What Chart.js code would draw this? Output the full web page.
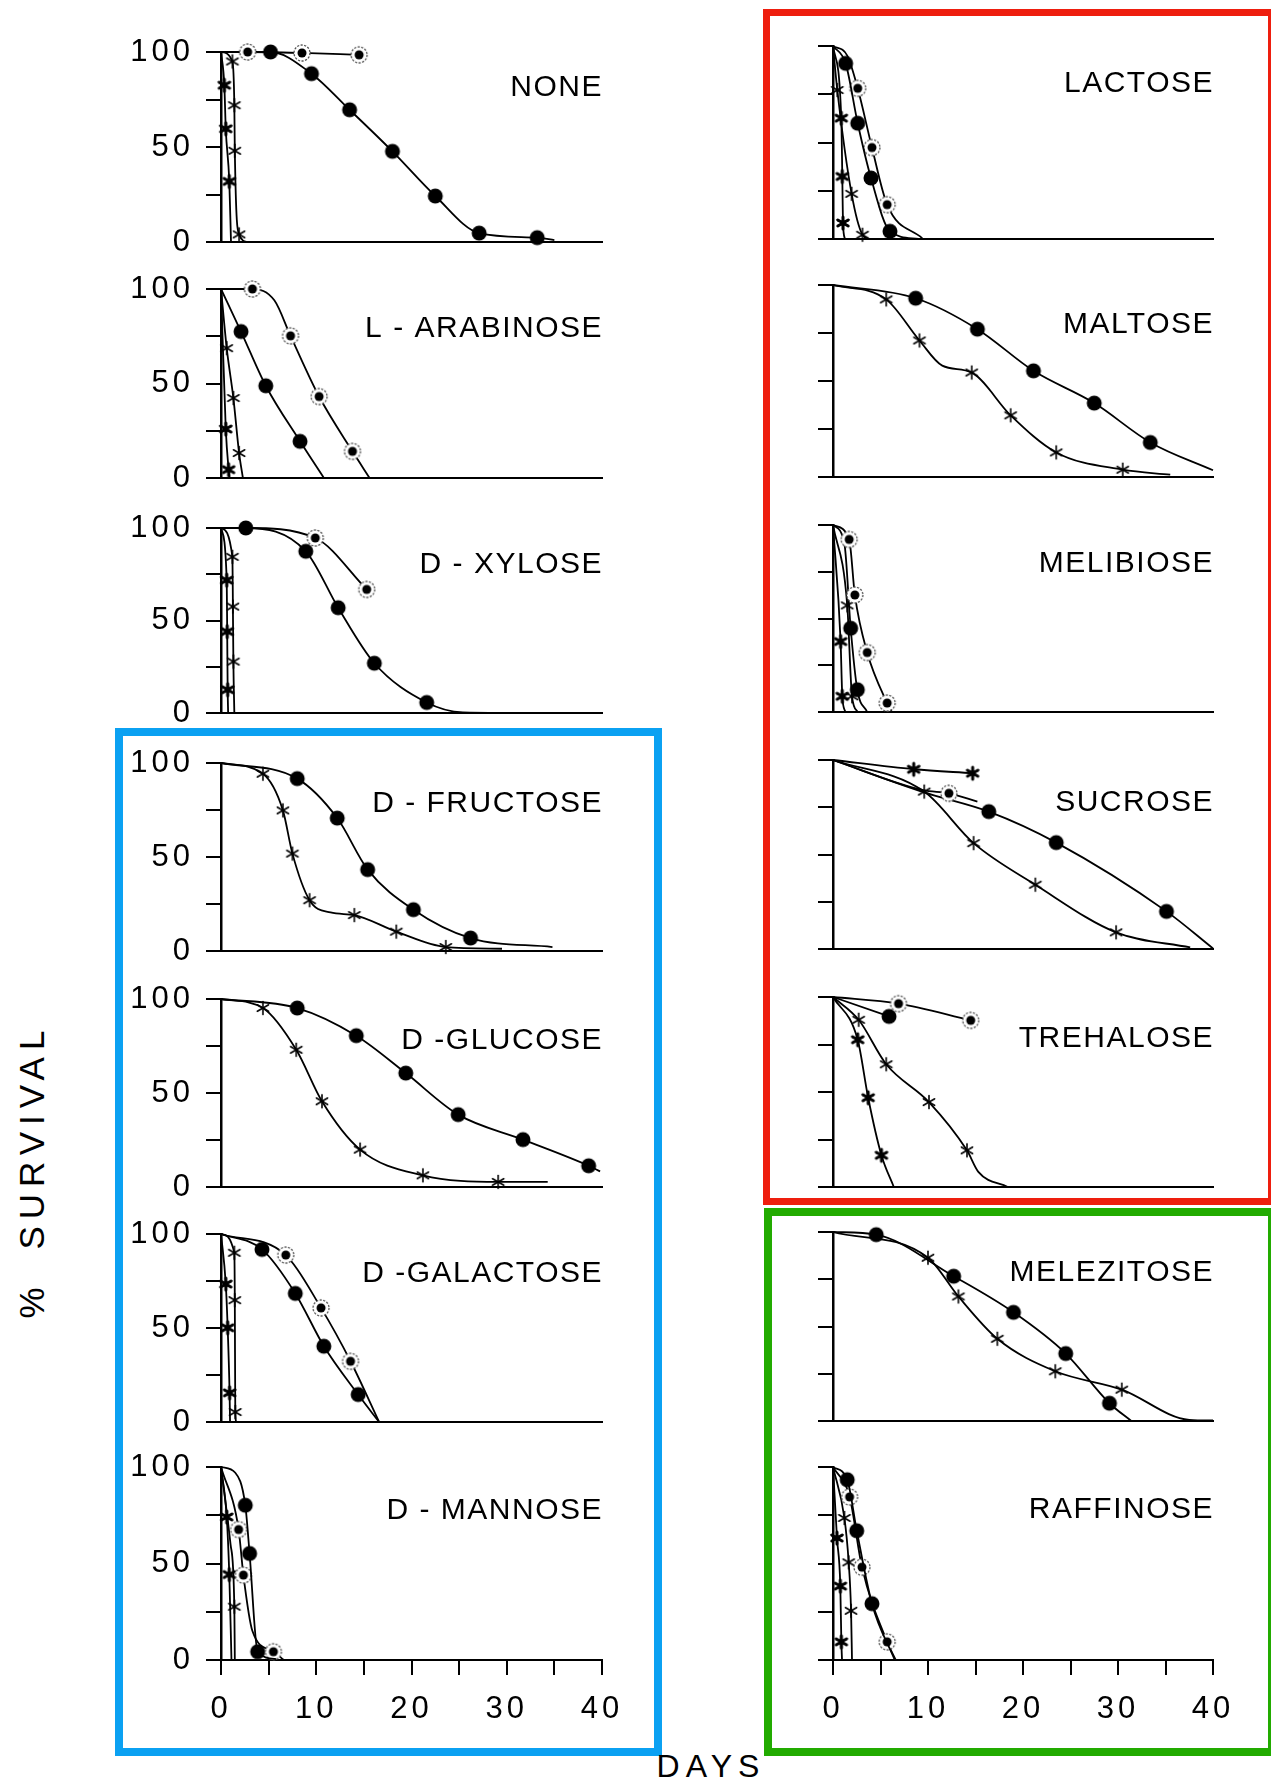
<!DOCTYPE html>
<html>
<head>
<meta charset="utf-8">
<script src="https://cdn.jsdelivr.net/npm/chart.js@4.4.0/dist/chart.umd.min.js"></script>
<style>
  body { margin: 0; background: #fff; width: 1271px; height: 1782px; position: relative; overflow: hidden;
         font-family: 'Liberation Sans', Arial, sans-serif; color: #000; }
  .panel { position: absolute; }
  .box { position: absolute; box-sizing: border-box; }
  .label { position: absolute; white-space: nowrap; }
</style>
</head>
<body>
<div class="box" style="left:115px;top:728px;width:547px;height:1028px;border:8px solid #0ba1f2"></div>
<div class="box" style="left:763px;top:9px;width:512px;height:1196px;border:7px solid #ee1e0e"></div>
<div class="box" style="left:764px;top:1208px;width:512px;height:548px;border:8px solid #22ab00"></div>
<div class="label" style="left:32px;top:1171px;font-size:35px;letter-spacing:7px;word-spacing:14px;transform:translate(-50%,-50%) rotate(-90deg)">% SURVIVAL</div>
<div class="label" style="left:711px;top:1748px;font-size:32px;letter-spacing:6px;transform:translateX(-50%)">DAYS</div>

<script>
// survival curves: [day, % survival]; a third value 0 = curve point drawn without a symbol
const noneRing  = [[0,100,0],[2.8,100],[8.5,99.5],[14.5,98.5]];
const noneDot   = [[0,100,0],[5.2,100],[9.5,88.6],[13.5,69.6],[18.0,47.7],[22.5,24.2],[27.1,4.7],[33.2,2.3],[35,1,0]];
const noneAster = [[0,100,0],[1.2,95],[1.4,72],[1.45,48],[1.9,4],[2.8,0,0]];
const noneStar  = [[0,100,0],[0.35,82.5],[0.5,59.6],[0.87,31.9],[1.05,0,0]];

const arabRing  = [[0,100,0],[3.3,100],[5.6,94,0],[7.3,75.2],[10.3,43.1],[13.8,14.1],[15.6,0,0]];
const arabDot   = [[0,100,0],[2.1,77.5],[4.7,48.8],[8.3,19.4],[10.8,0,0]];
const arabAster = [[0,100,0],[0.6,68.7],[1.3,42.3],[1.9,13.2],[2.3,0,0]];
const arabStar  = [[0,100,0],[0.5,25.9],[0.8,4.4],[0.9,0,0]];

const xylDot    = [[0,100,0],[2.6,100],[8.9,87.4],[12.3,56.9],[16.1,26.9],[21.6,5.7],[25.4,0.3,0],[30,0,0]];
const xylRing   = [[0,100,0],[2.6,100,0],[9.9,94.6],[15.3,66.8]];
const xylAster  = [[0,100,0],[1.2,84.4],[1.25,57.5],[1.3,27.8],[1.4,0,0]];
const xylStar   = [[0,100,0],[0.6,71.8],[0.65,44],[0.7,12.6],[0.75,0,0]];

const fruDot    = [[0,100,0],[8.0,91.7],[12.2,70.7],[15.4,43.3],[20.2,22.0],[26.2,6.9],[34.8,2.1,0]];
const fruAster  = [[0,100,0],[4.4,94.3],[6.5,74.8],[7.5,51.8],[9.3,27.0],[11.5,20.5,0],[14.0,19.1],[18.4,10.3],[23.6,2.1],[29.5,1.2,0]];

const gluDot    = [[0,100,0],[8.0,95.2],[14.2,80.5],[19.4,60.6],[24.9,38.5],[31.7,25.2],[38.6,11.3],[39.8,8.3,0]];
const gluAster  = [[0,100,0],[4.4,95.2],[7.9,73.0],[10.6,45.6],[14.6,19.9],[21.2,6.2],[29.1,2.7],[34.3,2.7,0]];

const galDot    = [[0,100,0],[4.3,91.8],[7.8,68.4],[10.8,40.3],[14.4,14.6],[16.6,0,0]];
const galRing   = [[0,100,0],[6.8,88.8],[10.5,60.7],[13.6,32.3],[16.6,0,0]];
const galAster  = [[0,100,0],[1.4,90],[1.45,64.8],[1.5,5.3],[1.6,0,0]];
const galStar   = [[0,100,0],[0.5,73.4],[0.7,50.1],[0.9,15.5],[0.95,0,0]];

const manDot    = [[0,100,0],[1.5,97,0],[2.55,80.2],[3.0,55.2],[3.85,4.3],[5.8,0.5,0]];
const manRing   = [[0,100,0],[1.85,67.6],[2.35,44],[3.3,15,0],[5.5,4.3],[6.6,0,0]];
const manStar   = [[0,100,0],[0.6,74.1],[0.87,44.3],[1.1,0,0]];
const manAster  = [[0,100,0],[1.0,60,0],[1.4,27.6],[1.45,0,0]];

const lacDot    = [[0,100,0],[1.33,91],[2.6,60],[4.0,31.6],[6.0,4],[9,0,0]];
const lacRing   = [[0,100,0],[1.5,95,0],[2.6,78.1],[4.1,47.4],[5.7,17.8],[9.4,0.3,0]];
const lacStar   = [[0,100,0],[0.87,62.6],[0.98,32.4],[1.05,8.3],[1.26,0,0]];
const lacAster  = [[0,100,0],[0.45,77.2],[1.96,23.4],[3.1,2.2],[3.8,0,0]];

const malDot    = [[0,100,0],[8.7,93.1],[15.2,77],[21.1,55.3],[27.5,38.5],[33.4,18],[40,3.5,0]];
const malAster  = [[0,100,0],[5.6,92.5],[9.1,71.1],[11.5,58,0],[14.6,54.4],[18.7,32.1],[23.5,12.8],[30.5,3.8],[35.5,1.2,0]];

const melRing   = [[0,100,0],[1.7,92.3],[2.3,62.6],[3.6,31.8],[5.7,4.8],[6.2,0,0]];
const melDot    = [[0,100,0],[1.2,90,0],[1.86,44.8],[2.56,11.9],[3.6,0,0]];
const melStar   = [[0,100,0],[0.8,37.7],[0.98,8.4],[1.3,0,0]];
const melAster  = [[0,100,0],[1.5,57],[2.0,8.4],[2.6,0,0]];

const sucStar   = [[0,100,0],[8.5,95.1],[14.7,93]];
const sucRing   = [[0,100,0],[9.5,84,0],[12.2,82.4],[15.2,78,0]];
const sucDot    = [[0,100,0],[9.5,83,0],[16.4,72.7],[23.5,56.3],[35.1,19.9],[40,0.3,0]];
const sucAster  = [[0,100,0],[9.6,83.3],[14.8,56],[21.3,34],[29.8,8.8],[37.6,0.8,0]];

const treRing   = [[0,100,0],[6.9,96.5],[14.5,87.7]];
const treDot    = [[0,100,0],[5.9,89.8]];
const treStar   = [[0,100,0],[2.6,77.5],[3.7,47],[5.1,16.7],[6.4,0,0]];
const treAster  = [[0,100,0],[2.7,88],[5.6,64.6],[10.1,44.7],[14.1,19.3],[15.3,8,0],[18.4,0,0]];

const mzDot     = [[0,100,0],[4.55,98.6],[12.7,76.6],[19.0,57.5],[24.5,35.7],[29.1,9.4],[31.4,0,0]];
const mzAster   = [[0,100,0],[10.0,86.4],[13.2,65.9],[17.3,43.5],[23.4,26.3],[30.4,16.6],[37.5,0.6,0],[40,0.3,0]];

const rafDot    = [[0,100,0],[1.5,93.4],[2.5,67],[4.1,29.2],[6.5,0,0]];
const rafRing   = [[0,100,0],[1.75,84.5],[3.05,48.1],[5.7,9.4],[6.6,0,0]];
const rafStar   = [[0,100,0],[0.42,63.2],[0.77,38.3],[0.88,9.4],[0.95,0,0]];
const rafAster  = [[0,100,0],[1.2,73.6],[1.65,50.6],[1.9,25.5],[2.0,0,0]];

const leftNames  = ['NONE', 'L - ARABINOSE', 'D - XYLOSE', 'D - FRUCTOSE', 'D -GLUCOSE', 'D -GALACTOSE', 'D - MANNOSE'];
const rightNames = ['LACTOSE', 'MALTOSE', 'MELIBIOSE', 'SUCROSE', 'TREHALOSE', 'MELEZITOSE', 'RAFFINOSE'];
const dayTicks = [0, 10, 20, 30, 40];
const survivalTicks = [0, 50, 100];

const leftSeries = [
  [[noneRing,'ring'],[noneDot,'dot'],[noneAster,'aster'],[noneStar,'star']],
  [[arabRing,'ring'],[arabDot,'dot'],[arabAster,'aster'],[arabStar,'star']],
  [[xylDot,'dot'],[xylRing,'ring'],[xylAster,'aster'],[xylStar,'star']],
  [[fruDot,'dot'],[fruAster,'aster']],
  [[gluDot,'dot'],[gluAster,'aster']],
  [[galDot,'dot'],[galRing,'ring'],[galAster,'aster'],[galStar,'star']],
  [[manDot,'dot'],[manRing,'ring'],[manStar,'star'],[manAster,'aster']]
];
const rightSeries = [
  [[lacDot,'dot'],[lacRing,'ring'],[lacStar,'star'],[lacAster,'aster']],
  [[malDot,'dot'],[malAster,'aster']],
  [[melRing,'ring'],[melDot,'dot'],[melStar,'star'],[melAster,'aster']],
  [[sucStar,'star'],[sucRing,'ring'],[sucDot,'dot'],[sucAster,'aster']],
  [[treRing,'ring'],[treDot,'dot'],[treStar,'star'],[treAster,'aster']],
  [[mzDot,'dot'],[mzAster,'aster']],
  [[rafDot,'dot'],[rafRing,'ring'],[rafStar,'star'],[rafAster,'aster']]
];

// plot-area placement of each column / row on the page
const colX = [[221, 602], [833, 1213]];
const rowsY = [
  [[52,242],[289,478],[528,713],[763,951],[999,1187],[1234,1422],[1467,1660]],
  [[46,239],[285,477],[525,712],[760,949],[997,1187],[1232,1421],[1467,1660]]
];
const titleDY = [[36,40,37,41,42,40,44], [38,40,39,43,42,41,43]];
const YW = 90, PT = 36, PR = 44;

function makeMarker(kind) {
  const c = document.createElement('canvas');
  c.width = c.height = 22;
  const g = c.getContext('2d');
  g.translate(11, 11);
  g.fillStyle = '#000'; g.strokeStyle = '#000';
  if (kind === 'dot') {
    g.beginPath(); g.arc(0, 0, 7.5, 0, Math.PI * 2); g.fill();
  } else if (kind === 'ring') {
    g.fillStyle = '#fff';
    g.beginPath(); g.arc(0, 0, 8, 0, Math.PI * 2); g.fill();
    g.lineWidth = 1.3; g.strokeStyle = '#555'; g.setLineDash([2.2, 1.4]);
    g.stroke(); g.setLineDash([]);
    g.fillStyle = '#000';
    g.beginPath(); g.arc(0, 0, 4.5, 0, Math.PI * 2); g.fill();
  } else {
    const bold = kind === 'star';
    const r = bold ? 6 : 6.5;
    g.lineWidth = bold ? 3 : 1.6; g.lineCap = 'round';
    for (let a = 0; a < 3; a++) {
      const t = Math.PI / 2 + a * Math.PI / 3;
      g.beginPath();
      g.moveTo(r * Math.cos(t), r * Math.sin(t));
      g.lineTo(-r * Math.cos(t), -r * Math.sin(t));
      g.stroke();
    }
    if (bold) { g.beginPath(); g.arc(0, 0, 3, 0, Math.PI * 2); g.fill(); }
  }
  return c;
}
const markers = { dot: makeMarker('dot'), ring: makeMarker('ring'), aster: makeMarker('aster'), star: makeMarker('star') };

const panelTitle = {
  id: 'panelTitle',
  beforeDraw(chart) { chart.ctx.letterSpacing = '4px'; },
  afterDatasetsDraw(chart, args, opts) {
    const { ctx, chartArea } = chart;
    ctx.save();
    ctx.font = '30px "Liberation Sans", Arial, sans-serif';
    ctx.letterSpacing = '1.5px';
    ctx.fillStyle = '#000';
    ctx.textAlign = 'right';
    ctx.textBaseline = 'middle';
    ctx.fillText(opts.text, chartArea.right + 1, chartArea.top + opts.dy);
    ctx.restore();
  }
};

function buildPanel(col, row) {
  const [x0, x1] = colX[col];
  const [y0, y1] = rowsY[col][row];
  const bottom = row === 6;
  const XH = bottom ? 82 : 36;
  const w = YW + (x1 - x0) + PR, h = PT + (y1 - y0) + XH;
  const div = document.createElement('div');
  div.className = 'panel';
  div.style.left = (x0 - YW) + 'px';
  div.style.top = (y0 - PT) + 'px';
  div.style.width = w + 'px';
  div.style.height = h + 'px';
  const canvas = document.createElement('canvas');
  canvas.width = w; canvas.height = h;
  div.appendChild(canvas);
  document.body.appendChild(div);

  const series = (col === 0 ? leftSeries : rightSeries)[row];
  const name = (col === 0 ? leftNames : rightNames)[row];

  new Chart(canvas.getContext('2d'), {
    type: 'line',
    data: {
      datasets: series.map(([pts, kind]) => ({
        data: pts.map(p => ({ x: p[0], y: p[1] })),
        pointRadius: pts.map(p => p[2] === 0 ? 0 : 6),
        pointStyle: markers[kind],
        borderColor: '#000',
        borderWidth: 1.8,
        cubicInterpolationMode: 'monotone',
        fill: false,
        clip: false
      }))
    },
    options: {
      responsive: false, animation: false, events: [],
      layout: { padding: { top: PT, right: PR, left: 0, bottom: 0 }, autoPadding: false },
      plugins: { legend: { display: false }, tooltip: { enabled: false },
                 panelTitle: { text: name, dy: titleDY[col][row] } },
      scales: {
        x: {
          type: 'linear', min: 0, max: 40,
          afterFit: s => { s.height = XH; },
          border: { display: true, color: '#000', width: 2 },
          grid: { display: bottom, drawOnChartArea: false, tickLength: 15, color: '#000', lineWidth: 2 },
          ticks: {
            display: bottom, stepSize: 5, autoSkip: false, maxRotation: 0, padding: 16,
            color: '#000', font: { family: 'Liberation Sans', size: 31 },
            callback: v => dayTicks.includes(v) ? String(v) : ''
          }
        },
        y: {
          min: 0, max: 100,
          afterFit: s => { s.width = YW; },
          border: { display: true, color: '#000', width: 2.5 },
          grid: { drawOnChartArea: false, tickLength: 15, color: '#000', lineWidth: 2 },
          ticks: {
            stepSize: 25, autoSkip: false, padding: 12,
            color: '#000', font: { family: 'Liberation Sans', size: 31 },
            callback: v => (col === 0 && survivalTicks.includes(v)) ? String(v) : ''
          }
        }
      }
    },
    plugins: [panelTitle]
  });
}

for (let col = 0; col < 2; col++)
  for (let row = 0; row < 7; row++) buildPanel(col, row);
</script>
</body>
</html>
